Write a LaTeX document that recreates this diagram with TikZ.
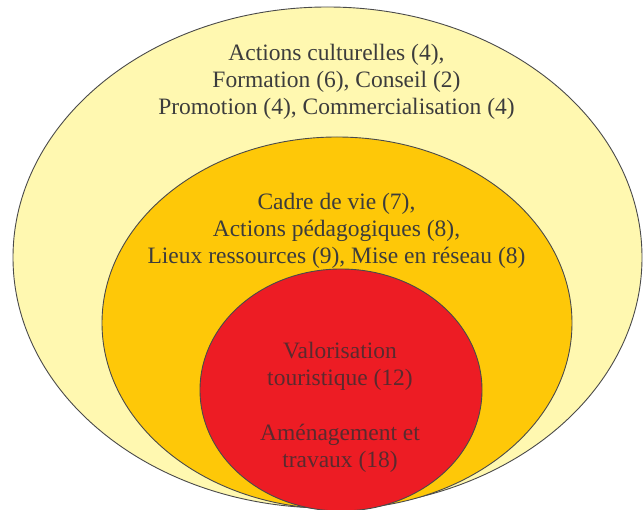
\documentclass[tikz,border=0pt]{standalone}
\usepackage{fontspec}
\setmainfont{Liberation Serif}
\usetikzlibrary{shapes.geometric}
\definecolor{outerfill}{HTML}{FFF8B0}
\definecolor{midfill}{HTML}{FEC808}
\definecolor{innerfill}{HTML}{ED1C24}
\definecolor{edge}{HTML}{4A4A4A}
\definecolor{ink}{HTML}{3C3C3C}
\definecolor{inkred}{HTML}{5A2A2E}
\begin{document}
\begin{tikzpicture}[x=1pt,y=-1pt,
  ring/.style={ellipse, draw=edge, line width=0.9pt, inner sep=0pt},
  label/.style={align=center, text=ink, inner sep=0pt,
    font=\fontsize{23.5}{27}\selectfont},
  redlabel/.style={label, text=inkred}]
\useasboundingbox (0,0) rectangle (643,510);
% nested rings
\node[ring, fill=outerfill, minimum width=629pt, minimum height=501pt] (outer) at (327.5,257.5) {};
\node[ring, fill=midfill, minimum width=470pt, minimum height=372pt] (middle) at (337,323) {};
\node[ring, fill=innerfill, minimum width=282pt, minimum height=242pt] (inner) at (341,390) {};
% ring captions
\node[label] (outertext) at (336.5,82) {Actions culturelles (4),\\Formation (6), Conseil (2)\\Promotion (4), Commercialisation (4)};
\node[label] (midtext) at (336.5,231) {Cadre de vie (7),\\Actions pédagogiques (8),\\Lieux ressources (9), Mise en réseau (8)};
\node[redlabel] (valo) at (340,366.5) {Valorisation\\touristique (12)};
\node[redlabel] (amen) at (340,448) {Aménagement et\\travaux (18)};
\end{tikzpicture}
\end{document}
